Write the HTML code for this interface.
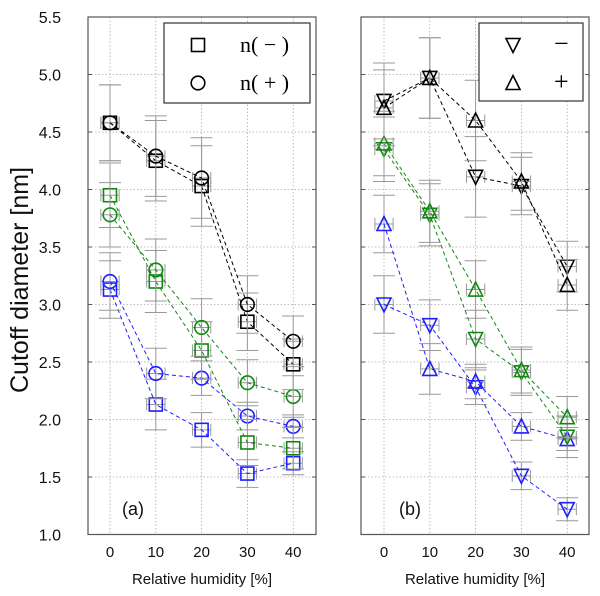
<!DOCTYPE html>
<html><head><meta charset="utf-8"><style>
body{margin:0;background:#fff;}
svg{display:block;font-family:"Liberation Sans",sans-serif;}
</style></head><body>
<svg id="c" width="600" height="596" viewBox="0 0 600 596"></svg>
<script>
const xCats=[0,10,20,30,40];
const yTicks=[1.0,1.5,2.0,2.5,3.0,3.5,4.0,4.5,5.0,5.5];
// panel (a)
const aBlackSq=[4.58,4.25,4.03,2.85,2.48];
const aBlackCi=[4.58,4.29,4.10,3.00,2.68];
const aGreenSq=[3.95,3.20,2.60,1.80,1.75];
const aGreenCi=[3.78,3.30,2.80,2.32,2.20];
const aBlueSq=[3.13,2.13,1.91,1.53,1.62];
const aBlueCi=[3.20,2.40,2.36,2.03,1.94];
// panel (b)
const bBlackDn=[4.77,4.97,4.11,4.03,3.33];
const bBlackUp=[4.71,4.97,4.60,4.07,3.17];
const bGreenDn=[4.35,3.78,2.70,2.41,1.85];
const bGreenUp=[4.40,3.81,3.13,2.43,2.02];
const bBlueDn=[3.00,2.82,2.28,1.51,1.22];
const bBlueUp=[3.70,2.44,2.33,1.94,1.83];
const errBlack=[0.33,0.35,0.35,0.25,0.22];
const errGreen=[0.28,0.27,0.25,0.2,0.18];
const errBlue=[0.25,0.22,0.15,0.12,0.1];

const svg=document.getElementById('c');
const NS='http://www.w3.org/2000/svg';
function mk(t,a,p){const e=document.createElementNS(NS,t);for(const k in a)e.setAttribute(k,a[k]);(p||svg).appendChild(e);return e;}
const yS=v=>17+(5.5-v)*115;
const panels=[{x0:88,x1:316,xz:110,name:'panel-a',lab:'(a)',lx:133},{x0:361,x1:589,xz:384,name:'panel-b',lab:'(b)',lx:410}];
panels.forEach(P=>P.xS=v=>P.xz+v*4.58);

panels.forEach((P,pi)=>{
  const g=mk('g',{});
  
  
  yTicks.forEach(t=>{
    const y=yS(t);
    const l=mk('line',{x1:P.x0,x2:P.x1,y1:y,y2:y,stroke:'#aaa','stroke-width':0.8,'stroke-dasharray':'1.5,2'},g);
    
    mk('line',{x1:P.x0,x2:P.x0+4,y1:y,y2:y,stroke:'#555'},g);
    mk('line',{x1:P.x1-4,x2:P.x1,y1:y,y2:y,stroke:'#555'},g);
    if(pi===0){const tx=mk('text',{x:61,y:y+6,'text-anchor':'end','font-size':16,fill:'#111'},g);tx.textContent=t.toFixed(1);
      }
  });
  xCats.forEach(c=>{
    const x=P.xS(c);
    const l=mk('line',{x1:x,x2:x,y1:17,y2:534.5,stroke:'#aaa','stroke-width':0.8,'stroke-dasharray':'1.5,2'},g);
    
    const tx=mk('text',{x:x,y:557,'text-anchor':'middle','font-size':15,fill:'#111'},g);tx.textContent=c;
    
  });
  const fr=mk('rect',{x:P.x0,y:17,width:P.x1-P.x0,height:517.5,fill:'none',stroke:'#555','stroke-width':1.2},g);
  
  const xl=mk('text',{x:(P.x0+P.x1)/2,y:584,'text-anchor':'middle','font-size':15,fill:'#111'},g);xl.textContent='Relative humidity [%]';
  
  const pl=mk('text',{x:P.lx,y:515,'text-anchor':'middle','font-size':18,fill:'#111'},g);pl.textContent=P.lab;
  
});
const yt=mk('text',{x:0,y:0,transform:'translate(28,280) rotate(-90)','text-anchor':'middle','font-size':25,fill:'#111'});
yt.textContent='Cutoff diameter [nm]';


function marker(g,shape,x,y,col){
  const s=6.5;
  if(shape==='sq')return mk('rect',{x:x-s,y:y-s,width:2*s,height:2*s,fill:'none',stroke:col,'stroke-width':1.6},g);
  if(shape==='ci')return mk('circle',{cx:x,cy:y,r:6.8,fill:'none',stroke:col,'stroke-width':1.6},g);
  if(shape==='dn')return mk('polygon',{points:`${x-7},${y-6.5} ${x+7},${y-6.5} ${x},${y+7.5}`,fill:'none',stroke:col,'stroke-width':1.6},g);
  return mk('polygon',{points:`${x-7},${y+6.5} ${x+7},${y+6.5} ${x},${y-7.5}`,fill:'none',stroke:col,'stroke-width':1.6},g);
}
function series(pi,vals,errs,shape,col,name){
  const P=panels[pi];
  const g=mk('g',{});
  
  
  vals.forEach((v,i)=>{
    const x=P.xS(xCats[i]),y=yS(v),e=errs[i]*115,h=2*4.58;
    mk('line',{x1:x,x2:x,y1:y-e,y2:y+e,stroke:'#999','stroke-width':1},g);
    mk('line',{x1:x-11,x2:x+11,y1:y-e,y2:y-e,stroke:'#999','stroke-width':1},g);
    mk('line',{x1:x-11,x2:x+11,y1:y+e,y2:y+e,stroke:'#999','stroke-width':1},g);
    mk('line',{x1:x-h,x2:x+h,y1:y,y2:y,stroke:'#999','stroke-width':1},g);
    mk('line',{x1:x-h,x2:x-h,y1:y-6,y2:y+6,stroke:'#999','stroke-width':1},g);
    mk('line',{x1:x+h,x2:x+h,y1:y-6,y2:y+6,stroke:'#999','stroke-width':1},g);
  });
  const pts=vals.map((v,i)=>P.xS(xCats[i])+','+yS(v)).join(' ');
  const ln=mk('polyline',{points:pts,fill:'none',stroke:col,'stroke-width':1,'stroke-dasharray':'4,3'},g);
  
  vals.forEach((v,i)=>{
    const m=marker(g,shape,P.xS(xCats[i]),yS(v),col);
    
    
  });
}
const K='#000',G='#118811',B='#1f1fff';
series(0,aBlueSq,errBlue,'sq',B,'blue-n-minus');
series(0,aBlueCi,errBlue,'ci',B,'blue-n-plus');
series(0,aGreenSq,errGreen,'sq',G,'green-n-minus');
series(0,aGreenCi,errGreen,'ci',G,'green-n-plus');
series(0,aBlackSq,errBlack,'sq',K,'black-n-minus');
series(0,aBlackCi,errBlack,'ci',K,'black-n-plus');
series(1,bBlueDn,errBlue,'dn',B,'blue-minus');
series(1,bBlueUp,errBlue,'up',B,'blue-plus');
series(1,bGreenDn,errGreen,'dn',G,'green-minus');
series(1,bGreenUp,errGreen,'up',G,'green-plus');
series(1,bBlackDn,errBlack,'dn',K,'black-minus');
series(1,bBlackUp,errBlack,'up',K,'black-plus');

// legends
function legend(x,y,w,h,entries,name){
  const g=mk('g',{});
  
  
  mk('rect',{x:x,y:y,width:w,height:h,fill:'#fff',stroke:'#333','stroke-width':1.2},g);
  entries.forEach((e,i)=>{
    const cy=y+22+i*38;
    const m=marker(g,e[0],x+34,cy,'#000');
    
    const t=mk('text',{x:e[2],y:cy+7,'font-size':e[3],'font-family':'"Liberation Serif",serif',fill:'#000'},g);
    t.textContent=e[1];
    
  });
}
legend(164,23,146,80,[['sq','n( \u2212 )',240,22],['ci','n( + )',240,22]],'legend-a');
legend(479,23,104,78,[['dn','\u2212',554,26],['up','+',554,26]],'legend-b');
</script>
</body></html>
